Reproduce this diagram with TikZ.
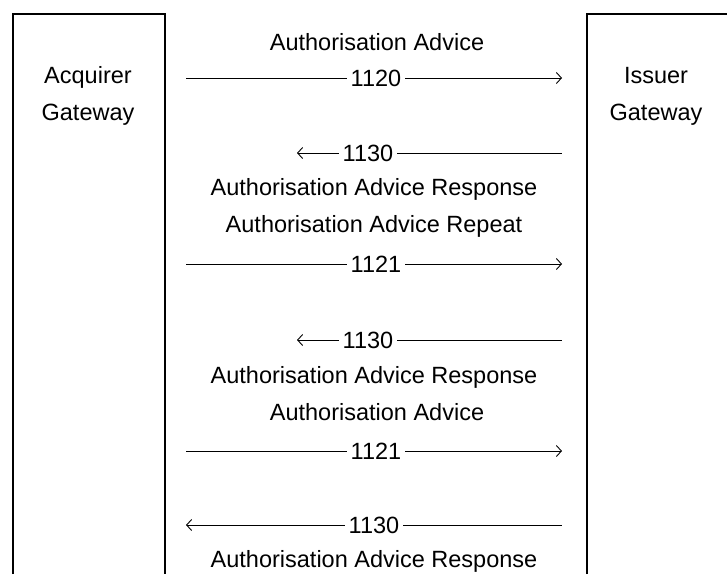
\documentclass[tikz,border=0pt]{standalone}
\usepackage{fontspec}
\setmainfont{Liberation Sans}
\usetikzlibrary{positioning,arrows.meta}

\begin{document}
\begin{tikzpicture}[x=1pt,y=-1pt,
  every node/.style={font=\fontsize{23.5}{37}\selectfont},
  gw/.style={line width=2.2pt},
  msg/.style={inner sep=4pt},
  flow/.style={line width=0.9pt},
  tip/.style={flow,-{Straight Barb[length=5pt,width=11pt]}}]
\useasboundingbox (0,0) rectangle (727,574);

% the two gateways, open at the bottom
\draw[gw] (12.7,574) |- (165,14) -- (165,574);
\draw[gw] (587,574) |- (727,14);
\node[align=center] (acq) at (88,96) {Acquirer\\Gateway};
\node[align=center] (iss) at (656,96) {Issuer\\Gateway};

% advice 1120
\node (t1) at (377,42) {Authorisation Advice};
\coordinate (l1) at (186,78);
\coordinate (r1) at (562,78);
\node[msg] (m1) at (376,78) {1120};
\draw[flow] (l1) -- (m1);
\draw[tip] (m1) -- (r1);

% response 1130
\coordinate (l2) at (297,153);
\coordinate (r2) at (562,153);
\node[msg] (m2) at (368,153) {1130};
\draw[tip] (m2) -- (l2);
\draw[flow] (m2) -- (r2);
\node (t2) at (374,189) {Authorisation Advice Response};

% repeat 1121
\node (t3) at (374,226) {Authorisation Advice Repeat};
\coordinate (l3) at (186,264);
\coordinate (r3) at (562,264);
\node[msg] (m3) at (376,264) {1121};
\draw[flow] (l3) -- (m3);
\draw[tip] (m3) -- (r3);

% response 1130
\coordinate (l4) at (297,340);
\coordinate (r4) at (562,340);
\node[msg] (m4) at (368,340) {1130};
\draw[tip] (m4) -- (l4);
\draw[flow] (m4) -- (r4);
\node (t4) at (374,377) {Authorisation Advice Response};

% advice 1121
\node (t5) at (377,412) {Authorisation Advice};
\coordinate (l5) at (186,451);
\coordinate (r5) at (562,451);
\node[msg] (m5) at (376,451) {1121};
\draw[flow] (l5) -- (m5);
\draw[tip] (m5) -- (r5);

% response 1130
\coordinate (l6) at (186,525);
\coordinate (r6) at (562,525);
\node[msg] (m6) at (374,525) {1130};
\draw[tip] (m6) -- (l6);
\draw[flow] (m6) -- (r6);
\node (t6) at (374,561) {Authorisation Advice Response};
\end{tikzpicture}
\end{document}
